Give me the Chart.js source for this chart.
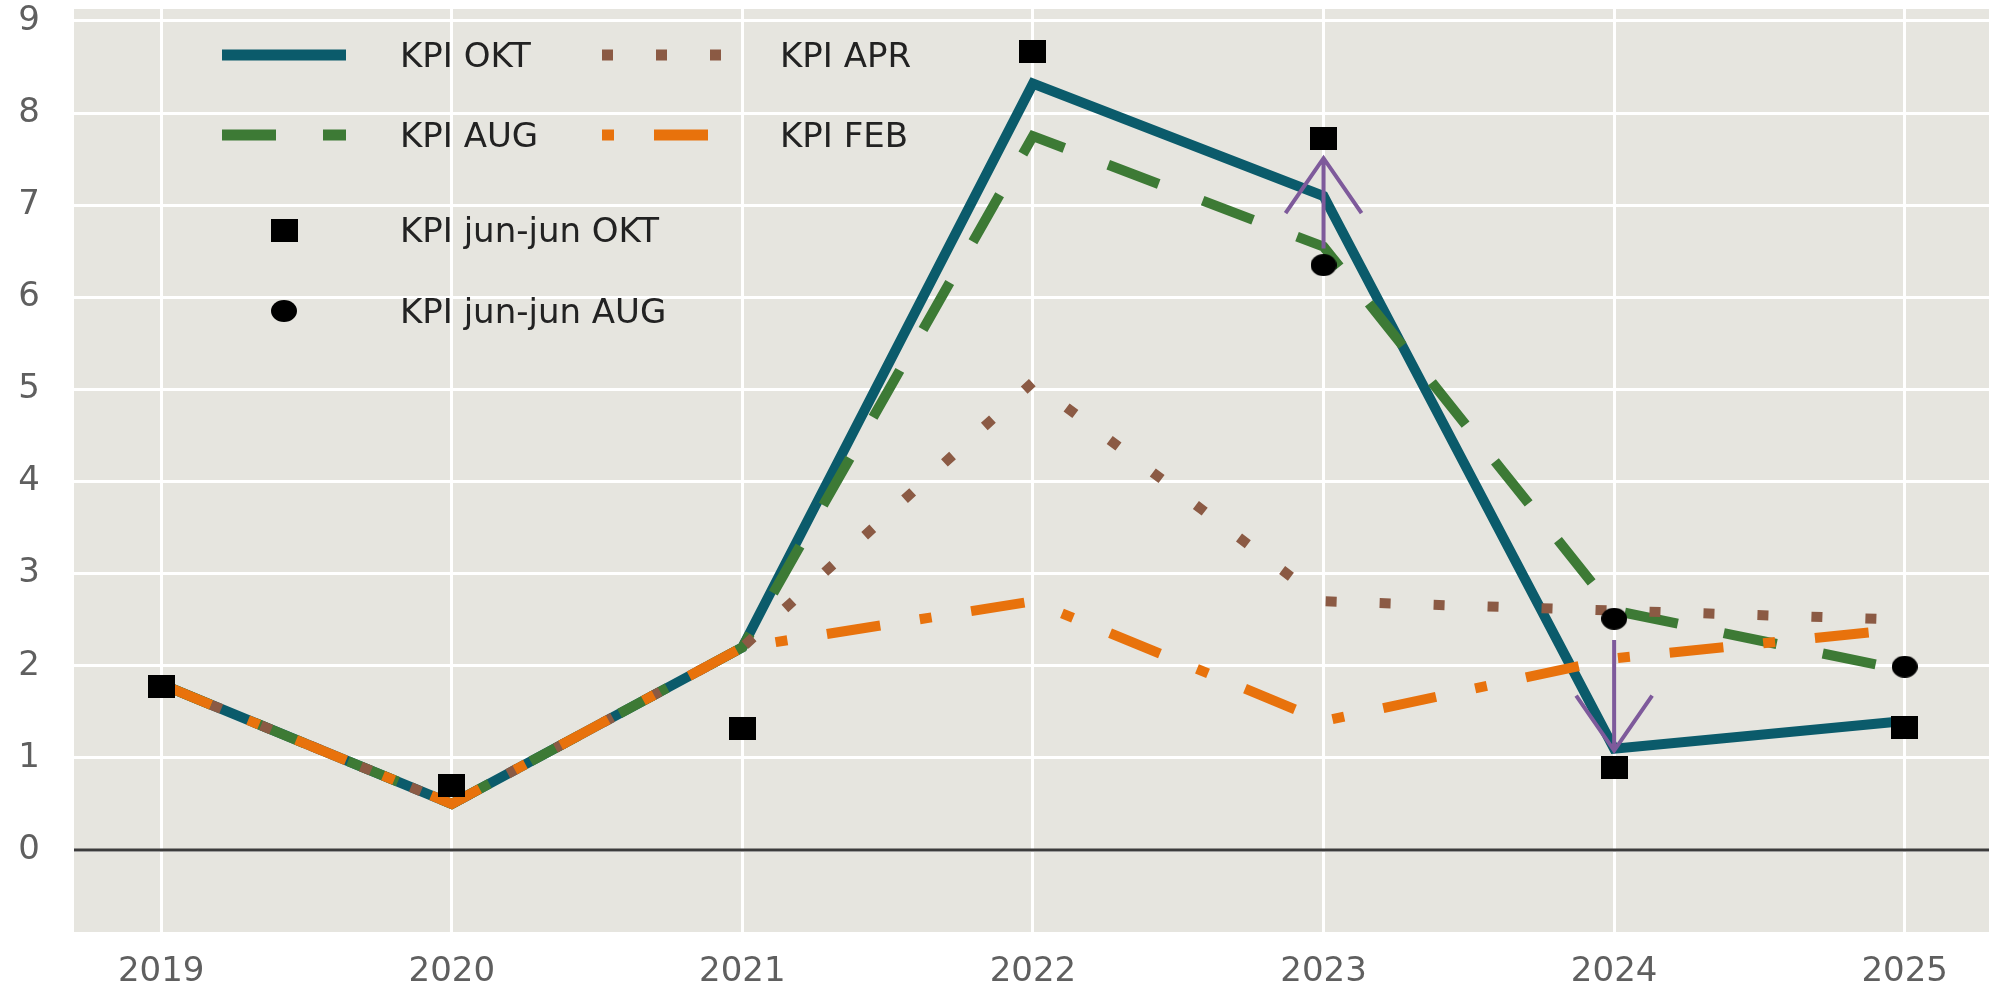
<!DOCTYPE html>
<html>
<head>
<meta charset="utf-8">
<script src="https://cdn.jsdelivr.net/npm/chart.js@4.4.1/dist/chart.umd.min.js"></script>
<style>
    html, body { margin: 0; padding: 0; background: #fff; }
    #wrap { width: 1989px; height: 993px; }
</style>
</head>
<body>
<div id="wrap"><canvas id="kpiChart" width="1989" height="993"></canvas></div>
<script>
// values
const years = [2019, 2020, 2021, 2022, 2023, 2024, 2025];
const kpiOkt = [1.8, 0.5, 2.2, 8.32, 7.1, 1.1, 1.4];
const kpiApr = [1.8, 0.5, 2.2, 5.08, 2.7, 2.6, 2.5];
const kpiAug = [1.8, 0.5, 2.2, 7.75, 6.55, 2.6, 1.95];
const kpiFeb = [1.8, 0.5, 2.2, 2.7, 1.4, 2.08, 2.4];
const junJunOkt = [1.78, 0.7, 1.32, 8.67, 7.72, 0.9, 1.33];
const junJunAug = [null, null, null, null, 6.35, 2.51, 1.99];
const yTicks = [0, 1, 2, 3, 4, 5, 6, 7, 8, 9];

// revision arrows (from the AUG point towards the OKT point)
const arrowYears = [2023, 2024];
const arrowFrom = [6.53, 2.28];
const arrowTo = [7.51, 1.08];

const fontFamily = '"DejaVu Sans", "Liberation Sans", sans-serif';
const colors = {
    okt: '#0b5b6b',
    apr: '#8b5a44',
    aug: '#3d7a35',
    feb: '#e8720c',
    arrow: '#7e5a9b',
    plot: '#e6e5df',
    tick: '#5f5f5f'
};

function toPoints(values) {
    return values.map((v, i) => ({ x: years[i], y: v }));
}

function makeMarker(w, h, round) {
    const c = document.createElement('canvas');
    c.width = w;
    c.height = h;
    const g = c.getContext('2d');
    g.fillStyle = '#000';
    if (round) {
        g.beginPath();
        g.ellipse(w / 2, h / 2, w / 2, h / 2, 0, 0, Math.PI * 2);
        g.fill();
    } else {
        g.fillRect(0, 0, w, h);
    }
    return c;
}

const squareMarker = makeMarker(27, 23, false);
const dotMarker = makeMarker(26, 22, true);

const plotBackground = {
    id: 'plotBackground',
    beforeDraw(chart) {
        const { ctx, chartArea: a } = chart;
        ctx.save();
        ctx.fillStyle = colors.plot;
        ctx.fillRect(a.left, a.top, a.right - a.left, a.bottom - a.top);
        ctx.restore();
    }
};

const zeroLine = {
    id: 'zeroLine',
    beforeDatasetsDraw(chart) {
        const { ctx, chartArea: a, scales } = chart;
        const y = scales.y.getPixelForValue(0);
        ctx.save();
        ctx.strokeStyle = '#3c3c3c';
        ctx.lineWidth = 3;
        ctx.beginPath();
        ctx.moveTo(a.left, y);
        ctx.lineTo(a.right, y);
        ctx.stroke();
        ctx.restore();
    }
};

const revisionArrows = {
    id: 'revisionArrows',
    afterDatasetsDraw(chart) {
        const { ctx, scales } = chart;
        ctx.save();
        ctx.strokeStyle = colors.arrow;
        ctx.lineWidth = 4;
        ctx.lineCap = 'butt';
        arrowYears.forEach((yr, i) => {
            const x = scales.x.getPixelForValue(yr);
            const y0 = scales.y.getPixelForValue(arrowFrom[i]);
            const y1 = scales.y.getPixelForValue(arrowTo[i]);
            const dir = y1 < y0 ? 1 : -1;
            ctx.beginPath();
            ctx.moveTo(x, y0);
            ctx.lineTo(x, y1);
            ctx.moveTo(x - 38, y1 + dir * 55);
            ctx.lineTo(x, y1);
            ctx.lineTo(x + 38, y1 + dir * 55);
            ctx.stroke();
        });
        ctx.restore();
    }
};

// legend sits inside the plot, in the top left corner
const legendSlots = [
    { sx: 222, sw: 124, tx: 400, y: 55 },
    { sx: 602, sw: 120, tx: 780, y: 55 },
    { sx: 222, sw: 124, tx: 400, y: 135 },
    { sx: 602, sw: 107, tx: 780, y: 135, dashOffset: 94 },
    { mx: 284, tx: 400, y: 230 },
    { mx: 284, tx: 400, y: 311 }
];

const insideLegend = {
    id: 'insideLegend',
    afterDraw(chart) {
        const { ctx } = chart;
        ctx.save();
        chart.data.datasets.forEach((ds, i) => {
            const slot = legendSlots[i];
            if (ds.showLine === false) {
                const m = ds.pointStyle;
                ctx.drawImage(m, slot.mx - m.width / 2, slot.y - m.height / 2);
            } else {
                ctx.strokeStyle = ds.borderColor;
                ctx.lineWidth = ds.borderWidth + 1;
                ctx.lineCap = 'butt';
                ctx.setLineDash(ds.borderDash || []);
                ctx.lineDashOffset = slot.dashOffset || 0;
                ctx.beginPath();
                ctx.moveTo(slot.sx, slot.y);
                ctx.lineTo(slot.sx + slot.sw, slot.y);
                ctx.stroke();
                ctx.setLineDash([]);
            }
            ctx.fillStyle = '#222';
            ctx.font = `34px ${fontFamily}`;
            ctx.textBaseline = 'alphabetic';
            ctx.textAlign = 'left';
            ctx.fillText(ds.label, slot.tx, slot.y + 12);
        });
        ctx.restore();
    }
};

const lineDefaults = {
    pointRadius: 0,
    borderWidth: 10,
    tension: 0,
    borderCapStyle: 'butt',
    borderJoinStyle: 'miter',
    fill: false
};

new Chart(document.getElementById('kpiChart'), {
    type: 'line',
    data: {
        datasets: [
            { ...lineDefaults, label: 'KPI OKT', data: toPoints(kpiOkt), borderColor: colors.okt, order: 5 },
            { ...lineDefaults, label: 'KPI APR', data: toPoints(kpiApr), borderColor: colors.apr, borderDash: [11, 43], order: 3 },
            { ...lineDefaults, label: 'KPI AUG', data: toPoints(kpiAug), borderColor: colors.aug, borderDash: [54, 47], order: 4 },
            { ...lineDefaults, label: 'KPI FEB', data: toPoints(kpiFeb), borderColor: colors.feb, borderDash: [54, 40, 12, 40], order: 2 },
            {
                label: 'KPI jun-jun OKT',
                data: toPoints(junJunOkt),
                showLine: false,
                pointStyle: squareMarker,
                pointRadius: 12,
                order: 0
            },
            {
                label: 'KPI jun-jun AUG',
                data: toPoints(junJunAug),
                showLine: false,
                pointStyle: dotMarker,
                pointRadius: 12,
                order: 1
            }
        ]
    },
    options: {
        responsive: false,
        animation: false,
        layout: { autoPadding: false, padding: { top: 9, left: 0, right: 0, bottom: 0 } },
        plugins: {
            legend: { display: false },
            tooltip: { enabled: false }
        },
        scales: {
            x: {
                type: 'linear',
                min: 2018.7,
                max: 2025.29,
                afterBuildTicks: s => { s.ticks = years.map(v => ({ value: v })); },
                afterFit: s => { s.height = 61; s.paddingLeft = 0; s.paddingRight = 0; },
                grid: { color: '#ffffff', lineWidth: 3, drawTicks: false },
                border: { display: false },
                ticks: {
                    padding: 20,
                    color: colors.tick,
                    font: { family: fontFamily, size: 34 },
                    maxRotation: 0,
                    autoSkip: false,
                    callback: v => String(v)
                }
            },
            y: {
                type: 'linear',
                min: -0.89,
                max: 9.13,
                afterBuildTicks: s => { s.ticks = yTicks.map(v => ({ value: v })); },
                afterFit: s => { s.width = 74; s.paddingTop = 0; s.paddingBottom = 0; },
                grid: { color: '#ffffff', lineWidth: 3, drawTicks: false },
                border: { display: false },
                ticks: {
                    padding: 34,
                    color: colors.tick,
                    font: { family: fontFamily, size: 34 },
                    callback: v => String(v)
                }
            }
        }
    },
    plugins: [plotBackground, zeroLine, revisionArrows, insideLegend]
});
</script>
</body>
</html>
